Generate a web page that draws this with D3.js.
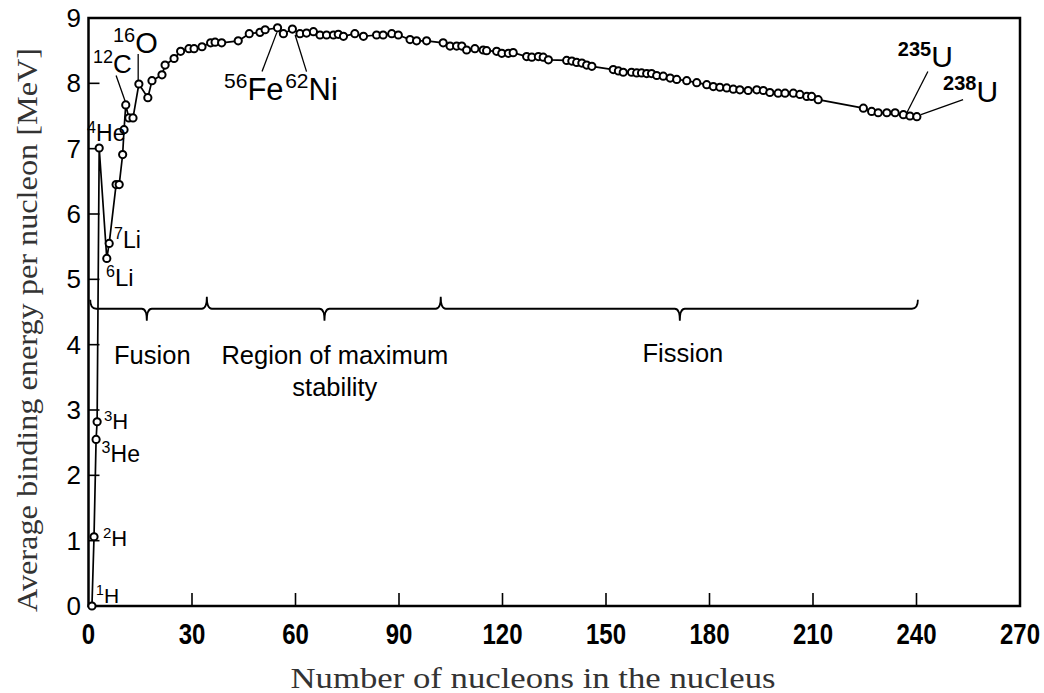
<!DOCTYPE html>
<html>
<head>
<meta charset="utf-8">
<script src="https://cdn.jsdelivr.net/npm/d3@7"></script>
<style>
  body { margin: 0; background: #fff; }
  svg { display: block; }
</style>
</head>
<body>
<div id="chart"></div>
<script>
// [mass number A, average binding energy per nucleon in MeV]
var curvePoints = [
  [1, 0], [1.6, 1.06], [2.2, 2.55], [2.5, 2.82], [3.1, 7.01], [5.3, 5.32], [6.0, 5.55],
  [8.0, 6.45], [8.9, 6.45], [9.9, 6.91], [10.3, 7.29], [10.8, 7.67], [11.7, 7.47], [12.9, 7.47],
  [14.6, 7.99], [17.2, 7.78], [18.4, 8.04], [21.3, 8.13], [22.2, 8.28], [24.8, 8.38], [26.7, 8.49],
  [29.1, 8.53], [30.6, 8.53], [32.9, 8.56], [35.4, 8.62], [36.7, 8.63], [38.6, 8.62], [43.4, 8.65],
  [46.6, 8.76], [49.7, 8.78], [51.2, 8.82], [54.8, 8.85], [56.5, 8.76], [59.1, 8.83], [61.3, 8.76],
  [63.2, 8.77], [65.2, 8.79], [67.1, 8.74], [69.0, 8.74], [71.0, 8.74], [72.4, 8.75], [73.9, 8.72],
  [77.2, 8.76], [79.7, 8.72], [83.5, 8.74], [85.4, 8.74], [87.9, 8.76], [89.8, 8.74], [93.2, 8.67],
  [95.1, 8.65], [98.0, 8.65], [102.8, 8.62], [104.8, 8.57], [106.7, 8.57], [108.2, 8.57], [109.6, 8.51],
  [112.0, 8.53], [114.4, 8.51], [115.4, 8.50], [118.3, 8.49], [119.8, 8.46], [121.7, 8.46], [123.1, 8.47],
  [127.0, 8.41], [128.5, 8.40], [130.4, 8.41], [131.8, 8.40], [133.3, 8.36], [138.6, 8.35], [140.1, 8.34],
  [141.5, 8.32], [143.0, 8.31], [144.4, 8.28], [145.9, 8.26], [152.1, 8.21], [153.6, 8.19], [155.0, 8.17],
  [157.4, 8.17], [158.9, 8.16], [160.3, 8.16], [161.8, 8.15], [163.2, 8.15], [164.7, 8.12], [166.6, 8.11],
  [168.6, 8.08], [170.5, 8.06], [173.4, 8.04], [176.3, 8.01], [179.2, 7.98], [181.1, 7.95], [183.0, 7.94],
  [185.0, 7.93], [186.9, 7.91], [188.8, 7.90], [191.2, 7.89], [193.7, 7.90], [195.6, 7.89], [197.5, 7.86],
  [199.9, 7.85], [201.9, 7.85], [204.3, 7.85], [206.2, 7.83], [208.2, 7.80], [209.6, 7.80], [211.5, 7.75],
  [224.6, 7.62], [227.0, 7.57], [228.9, 7.55], [231.4, 7.55], [233.8, 7.55], [236.2, 7.52], [238.1, 7.50],
  [240.1, 7.49]
];

var xTicks = [0, 30, 60, 90, 120, 150, 180, 210, 240, 270];
var yTicks = [0, 1, 2, 3, 4, 5, 6, 7, 8, 9];

// isotope labels: mass, symbol, label anchor (A, E), leader line from/to (A, E) or null
var isotopes = [
  { mass: "1",   sym: "H",  at: [2.2, 0.05],   size: 21, leader: null },
  { mass: "2",   sym: "H",  at: [4.2, 0.92],   size: 22, leader: null },
  { mass: "3",   sym: "H",  at: [4.5, 2.71],   size: 22, leader: null },
  { mass: "3",   sym: "He", at: [3.8, 2.21],   size: 23, leader: null },
  { mass: "4",   sym: "He", at: [-0.4, 7.11],  size: 23, leader: null },
  { mass: "7",   sym: "Li", at: [7.4, 5.48],   size: 23, leader: null },
  { mass: "6",   sym: "Li", at: [5.1, 4.90],   size: 24, leader: null },
  { mass: "12",  sym: "C",  at: [1.3, 8.16],   size: 26, leader: [8.0, 8.12, 10.6, 7.73] },
  { mass: "16",  sym: "O",  at: [7.1, 8.47],   size: 29, leader: [14.4, 8.45, 14.4, 8.05] },
  { mass: "56",  sym: "Fe", at: [39.3, 7.75],  size: 31, leader: [50.3, 8.18, 54.6, 8.78] },
  { mass: "62",  sym: "Ni", at: [57.0, 7.75],  size: 31, leader: [63.2, 8.18, 59.9, 8.74] },
  { mass: "235", sym: "U",  at: [234.6, 8.25], size: 30, leader: [243.3, 8.18, 237.2, 7.55] },
  { mass: "238", sym: "U",  at: [247.7, 7.72], size: 30, leader: [253.5, 7.75, 241.3, 7.52] }
];

// region brace: ends, junctions and centre points along A, at the brace energy level
var braceLevel = 4.55;
var braceJoins = [0.5, 34.3, 102.1, 240.4];
var braceMids = [16.9, 68.4, 171.4];
var regionNames = [["Fusion"], ["Region of maximum", "stability"], ["Fission"]];
var regionAt = [[18.5, 3.71], [71.4, 3.71], [172.3, 3.73]];

var width = 1044, height = 693;
var x = d3.scaleLinear().domain([0, 270]).range([88.5, 1020]);
var y = d3.scaleLinear().domain([0, 9]).range([606, 18]);

var svg = d3.select("#chart").append("svg")
  .attr("width", width)
  .attr("height", height);

// frame
svg.append("rect")
  .attr("x", x(0)).attr("y", y(9))
  .attr("width", x(270) - x(0)).attr("height", y(0) - y(9))
  .attr("fill", "none").attr("stroke", "#000").attr("stroke-width", 2.5);

// inward ticks
svg.append("g").selectAll("line").data(yTicks.slice(1, -1)).enter().append("line")
  .attr("x1", x(0)).attr("x2", x(0) + 11)
  .attr("y1", function(d) { return y(d); }).attr("y2", function(d) { return y(d); })
  .attr("stroke", "#000").attr("stroke-width", 1.6);

svg.append("g").selectAll("line").data(xTicks.slice(1, -1)).enter().append("line")
  .attr("x1", function(d) { return x(d); }).attr("x2", function(d) { return x(d); })
  .attr("y1", y(0)).attr("y2", y(0) - 13)
  .attr("stroke", "#000").attr("stroke-width", 1.6);

// tick labels
svg.append("g").selectAll("text").data(yTicks).enter().append("text")
  .attr("x", 81).attr("y", function(d) { return y(d) + 9; })
  .attr("text-anchor", "end")
  .attr("font-family", "Liberation Sans, Arial, sans-serif")
  .attr("font-size", 26)
  .text(function(d) { return d; });

svg.append("g").selectAll("text").data(xTicks).enter().append("text")
  .attr("transform", function(d) { return "translate(" + x(d) + ",644) scale(0.8,1)"; })
  .attr("text-anchor", "middle")
  .attr("font-family", "Liberation Sans, Arial, sans-serif")
  .attr("font-weight", "bold")
  .attr("font-size", 30)
  .text(function(d) { return d; });

// axis titles
svg.append("text")
  .attr("x", 533).attr("y", 688)
  .attr("text-anchor", "middle")
  .attr("font-family", "Liberation Serif, serif")
  .attr("font-size", 29)
  .attr("fill", "#333")
  .attr("textLength", 485).attr("lengthAdjust", "spacingAndGlyphs")
  .text("Number of nucleons in the nucleus");

svg.append("text")
  .attr("transform", "translate(37,330) rotate(-90)")
  .attr("text-anchor", "middle")
  .attr("font-family", "Liberation Serif, serif")
  .attr("font-size", 29)
  .attr("fill", "#333")
  .attr("textLength", 564).attr("lengthAdjust", "spacingAndGlyphs")
  .text("Average binding energy per nucleon [MeV]");

// region brace
var yb = y(braceLevel);
var p = d3.path();
var x0 = x(braceJoins[0]);
p.moveTo(x0, yb - 9);
p.quadraticCurveTo(x0, yb, x0 + 6, yb);
var marks = [];
braceMids.forEach(function(m, i) {
  marks.push({ a: m, dir: 1 });
  if (i + 1 < braceJoins.length - 1) marks.push({ a: braceJoins[i + 1], dir: -1 });
});
marks.forEach(function(m) {
  var xm = x(m.a);
  p.lineTo(xm - 5, yb);
  p.quadraticCurveTo(xm, yb, xm, yb + m.dir * 12);
  p.moveTo(xm, yb + m.dir * 12);
  p.quadraticCurveTo(xm, yb, xm + 5, yb);
});
var xe = x(braceJoins[braceJoins.length - 1]);
p.lineTo(xe - 6, yb);
p.quadraticCurveTo(xe, yb, xe, yb - 9);
svg.append("path")
  .attr("d", p.toString())
  .attr("fill", "none").attr("stroke", "#000").attr("stroke-width", 1.8);

// region names
regionNames.forEach(function(lines, i) {
  var t = svg.append("text")
    .attr("font-family", "Liberation Sans, Arial, sans-serif")
    .attr("font-size", 25.5)
    .attr("text-anchor", "middle");
  lines.forEach(function(s, j) {
    t.append("tspan")
      .attr("x", x(regionAt[i][0]))
      .attr("y", y(regionAt[i][1]) + j * 32)
      .text(s);
  });
});

// curve
var line = d3.line()
  .x(function(d) { return x(d[0]); })
  .y(function(d) { return y(d[1]); });

svg.append("path")
  .datum(curvePoints)
  .attr("d", line)
  .attr("fill", "none")
  .attr("stroke", "#000")
  .attr("stroke-width", 1.7);

// leader lines
svg.append("g").selectAll("line")
  .data(isotopes.filter(function(d) { return d.leader; }))
  .enter().append("line")
  .attr("x1", function(d) { return x(d.leader[0]); })
  .attr("y1", function(d) { return y(d.leader[1]); })
  .attr("x2", function(d) { return x(d.leader[2]); })
  .attr("y2", function(d) { return y(d.leader[3]); })
  .attr("stroke", "#000").attr("stroke-width", 1.3);

svg.append("g").selectAll("circle")
  .data(curvePoints)
  .enter().append("circle")
  .attr("cx", function(d) { return x(d[0]); })
  .attr("cy", function(d) { return y(d[1]); })
  .attr("r", 3.6)
  .attr("fill", "#fff")
  .attr("stroke", "#000")
  .attr("stroke-width", 2);

// isotope labels
isotopes.forEach(function(d) {
  var bold = d.sym == "U";
  var t = svg.append("text")
    .attr("x", x(d.at[0]))
    .attr("y", y(d.at[1]))
    .attr("font-family", "Liberation Sans, Arial, sans-serif");
  t.append("tspan")
    .attr("font-size", Math.round(d.size * 0.68))
    .attr("font-weight", bold ? "bold" : "normal")
    .attr("dy", -d.size * 0.38)
    .text(d.mass);
  t.append("tspan")
    .attr("font-size", d.size)
    .attr("dy", d.size * 0.38)
    .text(d.sym);
});
</script>
</body>
</html>
